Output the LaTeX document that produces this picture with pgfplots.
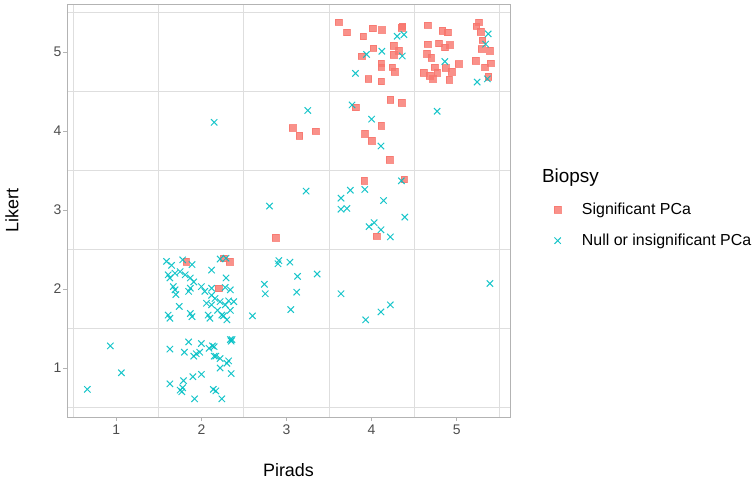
\documentclass[border=0pt]{standalone}
\usepackage{pgfplots}
\pgfplotsset{compat=1.18}
\usepackage{fontspec}
\setmainfont{Liberation Sans}
\definecolor{sig}{HTML}{F8766D}
\definecolor{nul}{HTML}{00BFC4}
\definecolor{gridc}{HTML}{DEDEDE}
\definecolor{framec}{HTML}{B3B3B3}
\definecolor{ticklab}{HTML}{4D4D4D}
\begin{document}
\begin{tikzpicture}
\begin{axis}[
  scale only axis, width=443bp, height=413bp,
  xmin=0.421, xmax=5.626, ymin=0.380, ymax=5.608,
  xtick={1,2,3,4,5}, ytick={1,2,3,4,5},
  minor xtick={0.5,1.5,2.5,3.5,4.5,5.5}, minor ytick={0.5,1.5,2.5,3.5,4.5,5.5},
  xminorgrids, yminorgrids,
  minor grid style={gridc, line width=0.9bp},
  minor tick length=0pt,
  axis line style={framec, line width=0.9bp},
  tick style={framec, line width=0.9bp},
  major tick length=4bp,
  tick align=outside, xtick pos=bottom, ytick pos=left,
  tick label style={font=\fontsize{14}{16}\selectfont, text=ticklab},
  y tick label style={xshift=2bp},
  /pgf/number format/assume math mode=true,
  xlabel={Pirads}, ylabel={Likert},
  label style={font=\fontsize{18}{20}\selectfont},
  x label style={at={(axis description cs:0.5,-0.128)}, anchor=center},
  y label style={at={(axis description cs:-0.124,0.5)}, anchor=center},
  clip=false,
  legend style={at={(1.093,0.528)}, anchor=north west, draw=none, fill=none,
    font=\fontsize{16}{18}\selectfont, row sep=14bp,
    /tikz/every odd column/.append style={column sep=19bp}},
  legend cell align=left,
]
\addplot[only marks, mark=square*, mark size=3.3bp, color=sig,
  mark options={draw=sig, fill=sig, line width=0.3bp, opacity=0.8}] coordinates {
(3.61,5.38) (3.71,5.25) (3.90,5.20) (4.01,5.30) (4.12,5.28) (4.35,5.31) (4.36,5.33) (4.02,5.05) (3.88,4.95) (4.26,5.08) (4.32,5.02) (4.26,4.97) (4.11,4.86) (4.11,4.81) (4.24,4.81) (4.27,4.75) (3.96,4.66) (4.11,4.63)
(4.66,5.34) (4.83,5.27) (4.89,5.25) (4.66,5.10) (4.79,5.11) (4.86,5.06) (4.92,5.09) (4.65,4.98) (4.70,4.93) (4.74,4.81) (4.77,4.74) (4.61,4.74) (4.68,4.70) (4.72,4.66) (4.87,4.80) (4.94,4.75) (4.91,4.65) (5.02,4.85) (5.26,5.38) (5.23,5.33) (5.28,5.26) (5.30,5.15) (5.29,5.04) (5.39,5.02) (5.22,4.89) (5.40,4.86) (5.33,4.81) (5.37,4.69)
(3.07,4.04) (3.15,3.94) (3.34,4.00) (3.81,4.30) (4.22,4.40) (4.35,4.36) (4.11,4.07) (3.92,3.97) (4.00,3.88) (4.21,3.64) (3.91,3.37) (4.38,3.39) (2.87,2.65) (4.06,2.67)
(1.82,2.35) (2.26,2.39) (2.33,2.35) (2.20,2.01)
};
\addlegendentry{Significant PCa}
\addplot[only marks, mark=x, mark size=4.5bp, color=nul,
  mark options={draw=nul, line width=1bp, opacity=0.9}] coordinates {
(4.30,5.20) (4.38,5.22) (3.94,4.97) (4.12,5.01) (4.36,4.95) (3.81,4.73) (4.86,4.88) (5.37,5.23) (5.34,5.10) (5.24,4.62) (5.36,4.66) (4.77,4.25)
(3.25,4.26) (3.77,4.33) (4.00,4.15) (4.11,3.81) (2.15,4.11) (3.23,3.24) (2.80,3.05) (3.75,3.25) (3.92,3.26) (3.64,3.15) (4.14,3.12) (3.64,3.01) (3.71,3.02) (4.35,3.37) (4.39,2.91) (4.03,2.84) (3.97,2.79) (4.11,2.75) (4.22,2.66)
(2.91,2.36) (2.90,2.32) (3.04,2.34) (3.13,2.16) (3.36,2.19) (2.74,2.06) (2.75,1.94) (3.12,1.96) (2.60,1.66) (3.05,1.74) (3.64,1.94) (3.93,1.61) (4.11,1.71) (4.22,1.80) (5.39,2.07)
(0.93,1.28) (1.06,0.94) (0.66,0.73)
(1.63,1.24) (1.80,1.20) (1.85,1.33) (1.91,1.15) (1.94,1.18) (2.00,1.31) (1.98,1.20) (2.09,1.25) (2.13,1.28) (2.15,1.27) (2.15,1.15) (2.17,1.15) (2.22,1.12) (2.32,1.09) (2.30,1.06) (2.22,1.00) (2.34,1.36) (2.36,1.36) (2.35,1.34) (2.35,0.93) (1.63,0.80) (1.79,0.84) (1.75,0.72) (1.78,0.75) (1.77,0.70) (1.90,0.89) (2.00,0.92) (2.14,0.73) (2.17,0.71) (1.92,0.61) (2.24,0.61)
(1.59,2.35) (1.65,2.30) (1.78,2.37) (1.89,2.31) (2.12,2.24) (2.22,2.38) (2.29,2.39) (1.61,2.18) (1.63,2.14) (1.69,2.20) (1.75,2.22) (1.81,2.18) (1.87,2.14) (1.91,2.09) (2.29,2.14) (1.67,2.03) (1.69,1.99) (1.70,1.93) (1.85,1.97) (1.87,2.01) (2.00,2.03) (2.04,1.97) (2.12,2.01) (2.28,2.02) (2.34,1.99) (2.12,1.92) (2.16,1.88) (2.32,1.85) (2.38,1.84) (2.06,1.82) (2.12,1.80) (2.22,1.84) (2.28,1.80) (2.19,1.73) (2.34,1.73) (1.61,1.67) (1.63,1.63) (1.74,1.78) (1.87,1.69) (1.89,1.65) (2.08,1.67) (2.10,1.63) (2.24,1.67) (2.30,1.61) (2.26,1.66)
};
\addlegendentry{Null or insignificant PCa}
\node[anchor=west, font=\fontsize{19}{22}\selectfont, inner sep=0pt] at (rel axis cs:1.072,0.579) {Biopsy};
\end{axis}
\pgfresetboundingbox
\path ([xshift=-67bp,yshift=-63bp]current axis.south west) rectangle ++(756bp,480bp);
\end{tikzpicture}
\end{document}
